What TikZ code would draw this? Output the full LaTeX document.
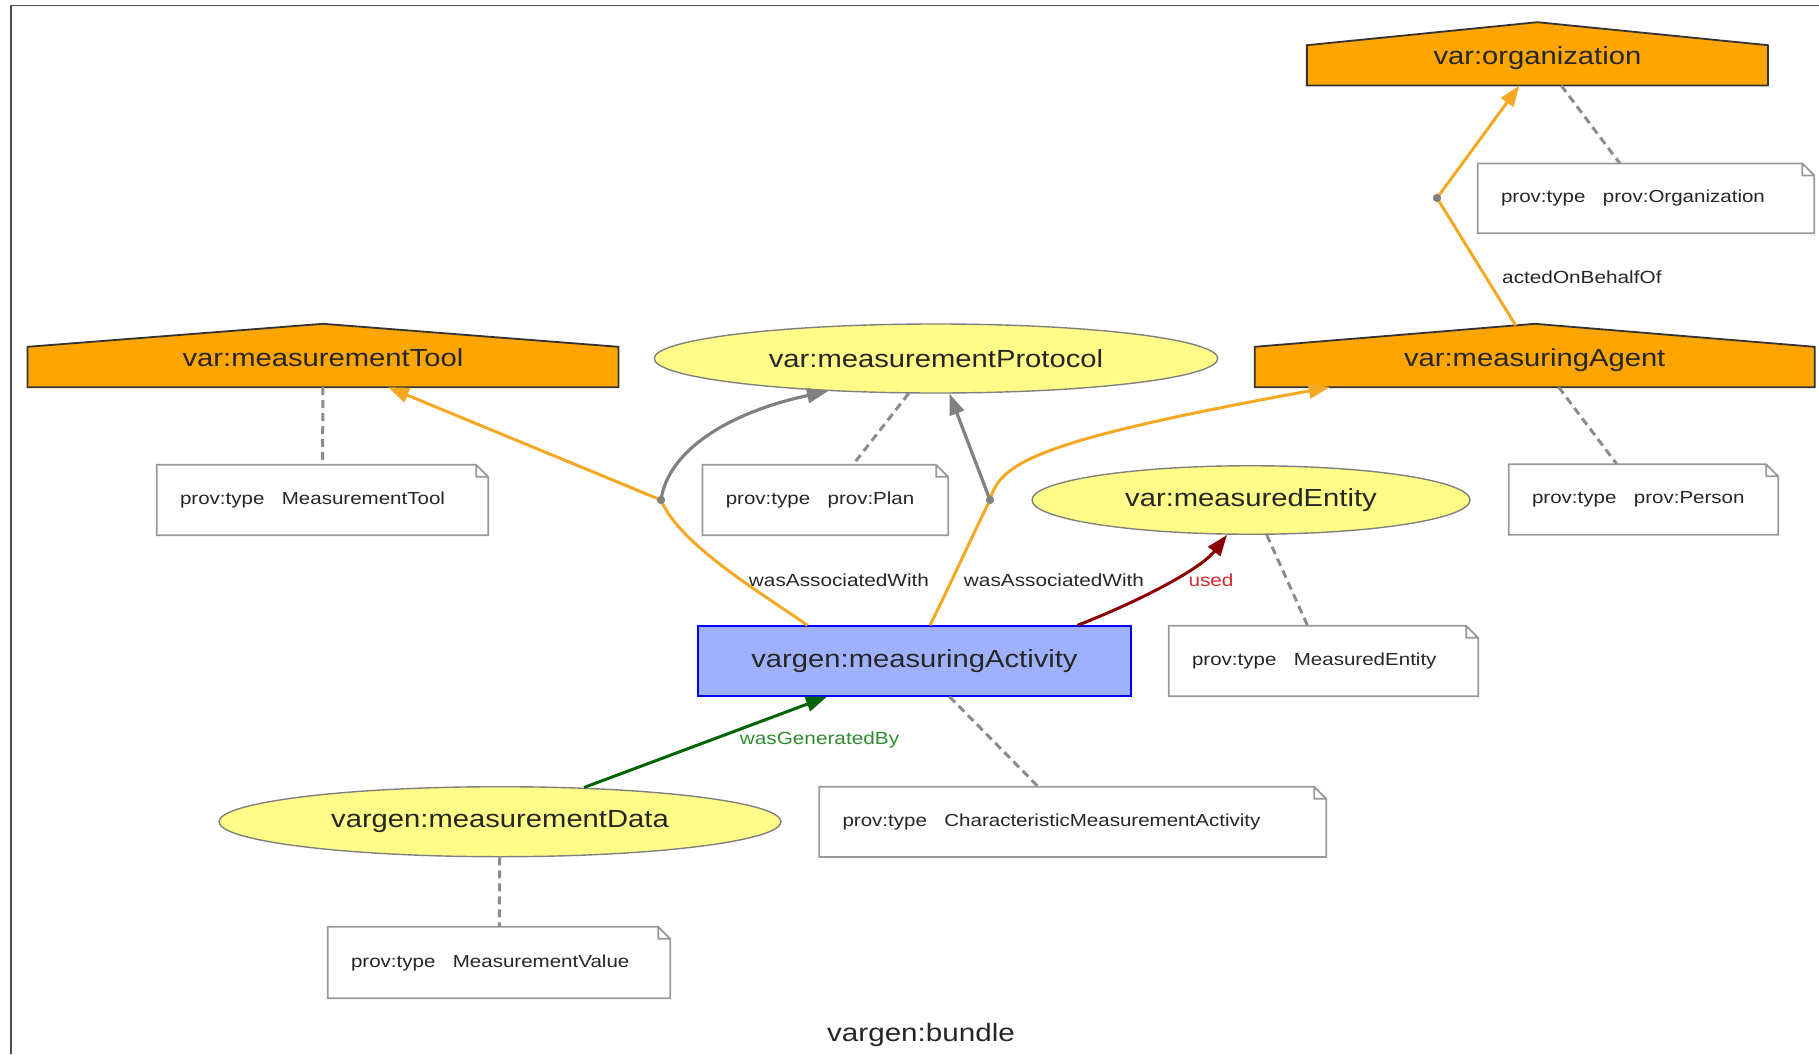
\documentclass[tikz,border=0pt]{standalone}
\usepackage{fontspec}
\setmainfont{Liberation Sans}[FakeStretch=1.18]
\usetikzlibrary{arrows.meta,shapes.geometric,backgrounds,calc}

\definecolor{agentorange}{HTML}{FFA500}
\definecolor{assocorange}{HTML}{F7A823}
\definecolor{entityyellow}{HTML}{FFFC87}
\definecolor{activityblue}{HTML}{9FB1FC}
\definecolor{usedred}{HTML}{8B0000}
\definecolor{usedlabel}{HTML}{D42A2A}
\definecolor{gengreen}{HTML}{006400}
\definecolor{genlabel}{HTML}{2E8B2E}

\newcommand{\provnodefont}{\fontsize{24.75}{30}\selectfont}
\newcommand{\provnotefont}{\fontsize{17.4}{21}\selectfont}
\newcommand{\provlblfont}{\fontsize{17.6}{21}\selectfont}

\begin{document}
\begin{tikzpicture}[x=1pt,y=-1pt,>={Triangle[length=21pt,width=15pt]},
  agent/.style={rectangle, inner sep=0pt, minimum height=63pt, text height=21pt, text depth=0pt, font=\provnodefont, text=black!85},
  entity/.style={ellipse, draw=gray, fill=entityyellow, line width=1.4pt, inner sep=0pt, minimum height=69pt, font=\provnodefont, text=black!85},
  activity/.style={rectangle, draw=blue, fill=activityblue, line width=1.4pt, inner sep=0pt, minimum height=70pt, font=\provnodefont, text=black!85},
  note/.style={rectangle, fill=white, inner xsep=23pt, inner ysep=0pt, minimum height=70pt, align=left, font=\provnotefont, text=black!85},
  attr/.style={draw=gray!90, line width=3pt, dash pattern=on 8pt off 5pt},
  assoc/.style={draw=assocorange, line width=3pt},
  plan/.style={draw=gray, line width=3.2pt},
  dot/.style={circle, fill=gray, inner sep=0pt, minimum size=8pt},
  lbl/.style={inner sep=0pt, font=\provlblfont, text=black!85}]
\useasboundingbox (0,0) rectangle (1819,1054);
\draw[black!70, line width=1.8pt] (11,1054) -- (11,5.5) -- (1819,5.5);

% agents
\draw (323,355.5) node[agent, minimum width=590.6pt] (tool) {var:measurementTool};
\draw (1534.7,355.5) node[agent, minimum width=559.5pt] (agent) {var:measuringAgent};
\draw (1537.4,53.9) node[agent, minimum width=460.7pt] (org) {var:organization};
\begin{scope}[on background layer]
\foreach \h in {tool,agent,org}
  \filldraw[fill=agentorange, draw=black!80, line width=1.8pt] (\h.south west) -- ([yshift=-23pt]\h.north west) -- (\h.north) -- ([yshift=-23pt]\h.north east) -- (\h.south east) -- cycle;
\end{scope}

% entities and activity
\draw (936,358.5) node[entity, minimum width=563.5pt] (prot) {var:measurementProtocol};
\draw (1251,500) node[entity, minimum width=438pt, minimum height=68.5pt] (meas) {var:measuredEntity};
\draw (500,821.7) node[entity, minimum width=562pt, minimum height=70pt] (data) {vargen:measurementData};
\draw (914.5,661) node[activity, minimum width=433pt] (act) {vargen:measuringActivity};

% attribute notes
\draw (322.5,500) node[note, text width=285pt] (toolnote) {prov:type\hspace{1em}MeasurementTool};
\draw (825.4,500) node[note, text width=199.3pt] (plannote) {prov:type\hspace{1em}prov:Plan};
\draw (1646,198.3) node[note, text width=290pt, minimum height=69.4pt] (orgnote) {prov:type\hspace{1em}prov:Organization};
\draw (1643.5,499.5) node[note, text width=223pt] (personnote) {prov:type\hspace{1em}prov:Person};
\draw (1323.5,661) node[note, text width=263pt] (measnote) {prov:type\hspace{1em}MeasuredEntity};
\draw (1072.75,821.85) node[note, text width=460.5pt, minimum height=69.7pt] (cmanote) {prov:type\hspace{1em}CharacteristicMeasurementActivity};
\draw (499,962.5) node[note, text width=296pt, minimum height=71pt] (valuenote) {prov:type\hspace{1em}MeasurementValue};
\foreach \n in {toolnote,plannote,orgnote,personnote,measnote,cmanote,valuenote}
  \draw[gray!80, line width=1.8pt] (\n.south west) -- (\n.north west) -- ([xshift=-12pt]\n.north east) -- ([yshift=-12pt]\n.north east) -- (\n.south east) -- cycle
    ([xshift=-12pt]\n.north east) -- ([xshift=-12pt,yshift=-12pt]\n.north east) -- ([yshift=-12pt]\n.north east);

\draw[attr] (tool) -- (toolnote);
\draw[attr] (prot) -- (plannote);
\draw[attr] (org) -- (orgnote);
\draw[attr] (agent) -- (personnote);
\draw[attr] (meas) -- (measnote);
\draw[attr] (act) -- (cmanote);
\draw[attr] (data) -- (valuenote);

% wasAssociatedWith
\draw (661,500) node[dot] (b1) {};
\draw (990,500) node[dot] (b2) {};
\draw[assoc] ([xshift=-107pt]act.north) .. controls (760,592) and (680,545) .. (b1.center);
\draw[assoc,->] (b1.center) -- ([xshift=65pt]tool.south);
\draw[plan,->] (b1.center) .. controls (668,450) and (730,412) .. ([xshift=-108pt,yshift=2.5pt]prot.south);
\draw[assoc] ([xshift=15.5pt]act.north) .. controls (950,585) and (975,530) .. (b2.center);
\draw[assoc,->] (b2.center) .. controls (1000,462) and (1040,440) .. ([xshift=-205pt]agent.south);
\draw[plan,->] (b2.center) -- ([xshift=13.5pt]prot.south);
\draw (b1) node[dot] {};
\draw (b2) node[dot] {};
\draw (839,580) node[lbl] (assoc1) {wasAssociatedWith};
\draw (1054,580) node[lbl] (assoc2) {wasAssociatedWith};

% used
\draw[draw=usedred, line width=3pt, ->] ([xshift=163pt]act.north) .. controls (1135,603) and (1200,570) .. ([xshift=-24pt]meas.south);
\draw (1211,580) node[lbl, text=usedlabel] (usedlbl) {used};

% wasGeneratedBy
\draw[draw=gengreen, line width=3pt, ->] ([xshift=84pt,yshift=-1.5pt]data.north) -- ([xshift=-87.5pt]act.south);
\draw (819.5,740) node[lbl, text=genlabel] (genlbl) {wasGeneratedBy};

% actedOnBehalfOf
\draw (1437,198) node[dot] (b3) {};
\draw[assoc] ([xshift=-19pt,yshift=-1.6pt]agent.north) -- (b3.center);
\draw[assoc,->] (b3.center) -- ([xshift=-18pt]org.south);
\draw (b3) node[dot] {};
\draw (1502,277) node[lbl, anchor=west] (actedlbl) {actedOnBehalfOf};

\draw (921,1035) node[inner sep=0pt, font=\fontsize{25.1}{30}\selectfont, text=black!85] (bundle) {vargen:bundle};
\end{tikzpicture}
\end{document}
